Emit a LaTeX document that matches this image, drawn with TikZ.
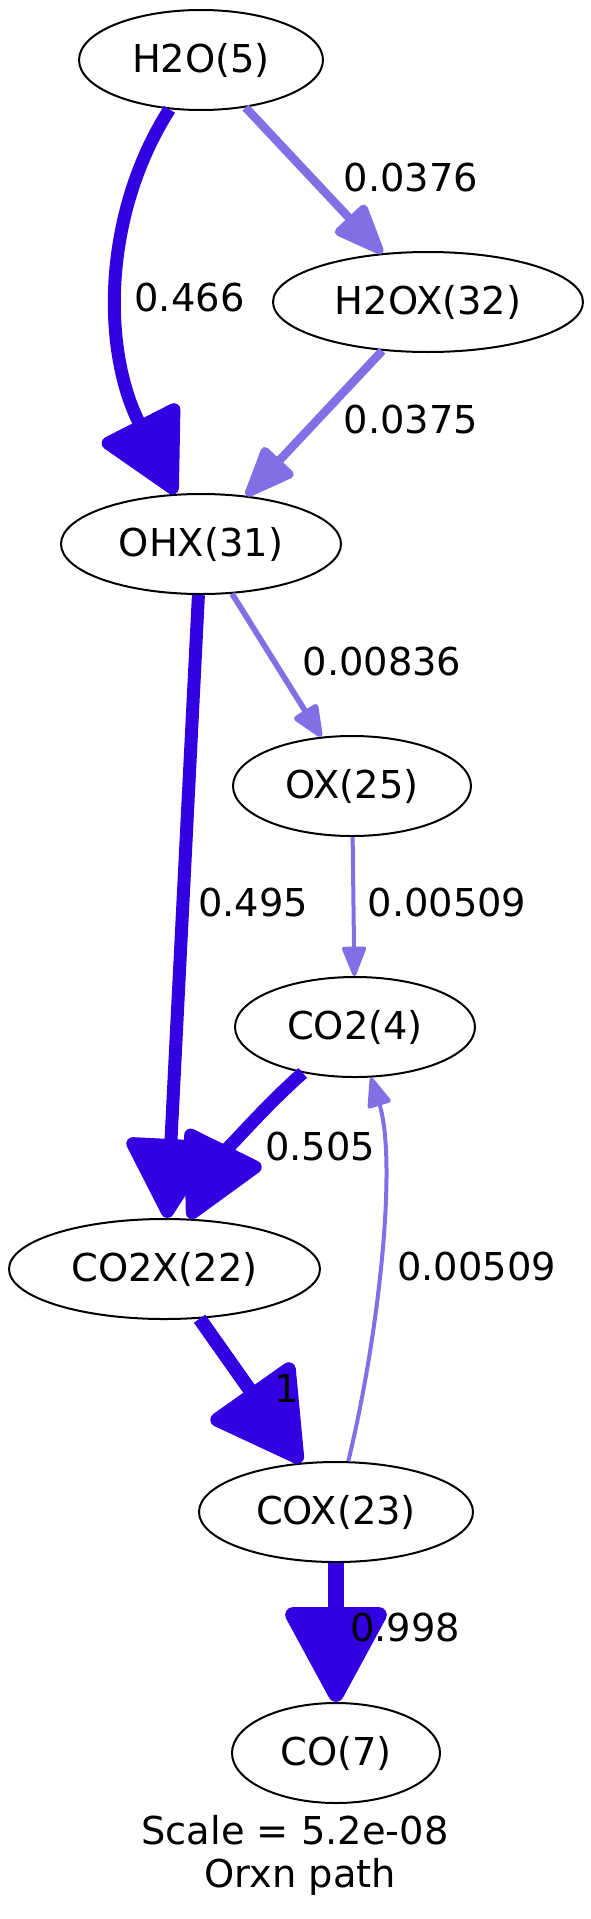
\documentclass[tikz,border=0pt]{standalone}
\usepackage{fontspec}
\setmainfont{DejaVu Sans}
\usetikzlibrary{shapes.geometric,arrows.meta}
\definecolor{dk}{RGB}{51,0,226}
\definecolor{lt}{RGB}{131,110,230}
\begin{document}
\begin{tikzpicture}[x=1pt,y=-1pt,
  sp/.style={ellipse,draw=black,line width=2pt,inner sep=0pt,minimum height=100pt,font=\fontsize{38.4}{46}\selectfont},
  lab/.style={font=\fontsize{38.4}{46}\selectfont,inner sep=0pt},
  ed/.style n args={4}{draw=#1,line width=#2pt,-{Triangle[length=#3pt,width=#4pt,round]}}]
\useasboundingbox[fill=white] (0,0) rectangle (590,1919);
% species
\node[sp,minimum width=244pt] (h2o)  at (201,60)    {H2O(5)};
\node[sp,minimum width=310pt] (h2ox) at (428,302)   {H2OX(32)};
\node[sp,minimum width=280pt] (ohx)  at (201,544)   {OHX(31)};
\node[sp,minimum width=238pt] (ox)   at (352,786)   {OX(25)};
\node[sp,minimum width=240pt] (co2)  at (355,1027)  {CO2(4)};
\node[sp,minimum width=311pt] (co2x) at (164.5,1269) {CO2X(22)};
\node[sp,minimum width=274pt] (cox)  at (336,1512)  {COX(23)};
\node[sp,minimum width=208pt] (co)   at (336,1753)  {CO(7)};
% edges
\draw[ed={dk}{13}{90}{92}] (h2o) .. controls (102,215) and (102,350) .. (ohx);
\draw[ed={lt}{8.5}{57}{44}] (h2o) -- (h2ox);
\draw[ed={lt}{8.5}{57}{44}] (h2ox) -- (ohx);
\draw[ed={dk}{13}{86}{95}] (ohx) -- (co2x);
\draw[ed={lt}{5.7}{36}{29}] (ohx) -- (ox);
\draw[ed={lt}{4}{33}{25}] (ox) -- (co2);
\draw[ed={dk}{13}{90}{90}] (co2) .. controls (255,1115) and (216,1165) .. (co2x);
\draw[ed={lt}{4}{33}{25}] (cox) .. controls (380,1330) and (397,1160) .. (co2);
\draw[ed={dk}{14}{98}{108}] (co2x) -- (cox);
\draw[ed={dk}{15.5}{104}{108}] (cox) -- (co);
% labels
\node[lab] (l1) at (189.5,298) {0.466};
\node[lab] (l2) at (411,178) {0.0376};
\node[lab] (l3) at (411,420) {0.0375};
\node[lab] (l4) at (382,662) {0.00836};
\node[lab] (l5) at (253,903) {0.495};
\node[lab] (l6) at (447,903) {0.00509};
\node[lab] (l7) at (320,1147) {0.505};
\node[lab] (l8) at (476.5,1267) {0.00509};
\node[lab] (l9) at (287,1388) {1};
\node[lab] (l10) at (405,1628) {0.998};
\node[lab,anchor=base] (t1) at (295,1844) {Scale = 5.2e-08};
\node[lab,anchor=base] (t2) at (300.5,1887) {Orxn path};
\end{tikzpicture}
\end{document}
